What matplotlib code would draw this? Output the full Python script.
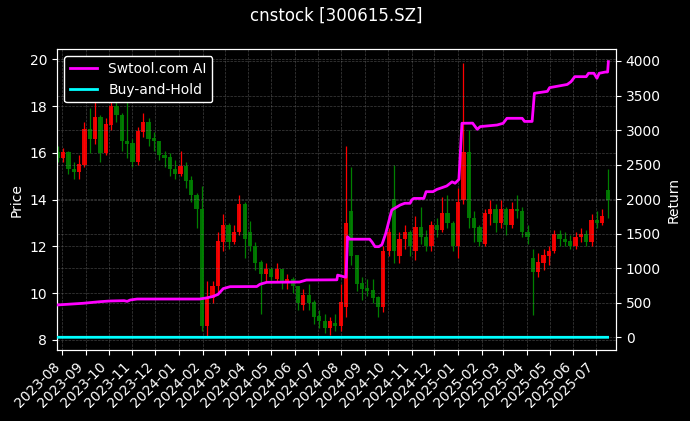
import matplotlib
matplotlib.use("Agg")
import matplotlib.pyplot as plt
import matplotlib.dates as mdates
import numpy as np
import pandas as pd

# Weekly candles (week centre dates)
week_start = "2023-07-26"
opens = [16.0, 15.8, 16.0, 15.3, 15.2, 15.5, 17.0, 16.6, 17.5, 16.0,
         17.2, 18.0, 17.6, 16.5, 16.4, 15.6, 16.9, 17.3, 16.6, 16.5,
         15.9, 15.8, 15.3, 15.1, 15.4, 14.8, 14.2, 13.6, 8.6, 9.8,
         10.3, 12.2, 12.9, 12.2, 12.6, 13.8, 12.6, 12.0, 11.3, 10.8,
         11.0, 10.6, 11.0, 10.5, 10.6, 10.3, 9.5, 9.9, 9.6, 9.0,
         8.8, 8.5, 8.7, 8.6, 9.4, 13.5, 11.6, 10.4, 10.2, 10.1,
         9.8, 9.4, 11.8, 14.0, 11.6, 12.3, 12.6, 11.8, 12.8, 12.4,
         12.0, 12.9, 12.7, 13.4, 13.0, 12.0, 14.0, 16.0, 13.2, 12.8,
         12.1, 13.4, 13.6, 13.0, 13.6, 12.9, 13.6, 13.5, 12.6, 11.5,
         10.9, 11.3, 11.6, 11.8, 12.5, 12.3, 12.2, 12.0, 12.4, 12.5,
         12.2, 13.1, 13.0, 14.4]
closes = [15.8, 16.0, 15.3, 15.2, 15.5, 17.0, 16.6, 17.5, 16.0, 17.2,
          18.0, 17.6, 16.5, 16.4, 15.6, 16.9, 17.3, 16.6, 16.5, 15.9,
          15.8, 15.3, 15.1, 15.4, 14.8, 14.2, 13.6, 8.6, 9.8, 10.3,
          12.2, 12.9, 12.2, 12.6, 13.8, 12.3, 12.0, 11.3, 10.8, 11.0,
          10.7, 11.0, 10.5, 10.6, 10.3, 9.6, 9.9, 9.6, 9.0, 8.8,
          8.5, 8.8, 8.6, 9.6, 13.0, 11.6, 10.4, 10.2, 10.1, 9.8,
          9.4, 11.8, 12.6, 11.8, 12.3, 12.6, 12.0, 12.8, 12.4, 12.0,
          12.9, 12.7, 13.4, 13.0, 12.0, 13.9, 16.0, 13.2, 12.8, 12.2,
          13.4, 13.6, 13.0, 13.6, 12.9, 13.6, 13.5, 12.6, 12.4, 10.9,
          11.3, 11.6, 11.8, 12.5, 12.3, 12.2, 12.0, 12.4, 12.5, 12.2,
          13.1, 13.0, 13.3, 14.0]
highs = [16.3, 16.2, 16.1, 15.6, 15.9, 17.3, 17.9, 18.3, 17.6, 17.5,
         18.4, 18.6, 17.7, 18.3, 16.6, 17.1, 17.7, 17.5, 16.9, 16.5,
         16.1, 16.0, 15.7, 16.1, 15.6, 15.0, 14.3, 14.6, 10.5, 10.5,
         12.6, 13.4, 13.0, 12.9, 14.2, 13.9, 13.1, 12.2, 11.4, 11.3,
         11.1, 11.3, 11.0, 10.8, 10.7, 10.3, 10.2, 10.4, 9.7, 9.3,
         9.1, 9.0, 9.1, 10.4, 16.3, 15.4, 11.6, 10.7, 10.6, 10.6,
         9.9, 12.0, 12.8, 15.5, 12.6, 12.9, 12.7, 13.3, 13.7, 12.7,
         13.1, 13.2, 14.1, 14.2, 13.1, 14.5, 19.85, 17.0, 13.5, 12.9,
         13.6, 14.0, 13.8, 14.0, 13.7, 13.9, 14.2, 13.7, 12.9, 11.9,
         11.7, 11.9, 12.0, 12.7, 12.7, 12.6, 12.5, 12.6, 12.8, 12.7,
         13.4, 13.5, 13.6, 15.3]
lows = [15.6, 15.6, 15.1, 14.9, 14.9, 15.4, 16.0, 16.4, 15.6, 15.9,
        17.0, 17.3, 16.1, 15.8, 15.4, 15.5, 16.7, 16.3, 16.1, 15.7,
        15.4, 15.0, 14.9, 15.0, 14.5, 13.9, 12.8, 8.4, 8.15, 9.6,
        10.0, 11.8, 11.9, 12.1, 12.5, 11.5, 11.8, 11.0, 9.1, 10.5,
        10.4, 10.5, 10.2, 10.2, 10.0, 9.3, 9.3, 9.3, 8.7, 8.5,
        8.3, 8.2, 8.4, 8.4, 9.0, 11.2, 10.1, 9.7, 9.9, 9.6,
        9.0, 9.2, 11.6, 11.3, 11.3, 11.9, 11.6, 11.4, 12.1, 11.8,
        11.8, 12.4, 12.6, 12.8, 11.8, 11.5, 13.8, 12.8, 12.2, 12.0,
        12.0, 12.9, 12.6, 12.8, 12.5, 12.8, 13.2, 12.4, 12.1, 9.05,
        10.7, 11.0, 11.2, 11.7, 12.0, 12.0, 11.9, 11.9, 12.2, 12.0,
        12.0, 12.8, 12.9, 13.2]

# Strategy cumulative return (%), breakpoints
ret_dates = ['2023-07-25', '2023-08-28', '2023-09-19', '2023-10-02', '2023-10-21',
             '2023-10-25', '2023-10-29', '2023-11-07', '2024-01-28', '2024-02-06',
             '2024-02-14', '2024-02-21', '2024-02-28', '2024-03-08', '2024-04-12',
             '2024-04-16', '2024-04-25', '2024-06-07', '2024-06-16', '2024-07-26',
             '2024-07-27', '2024-08-03', '2024-08-07', '2024-08-09', '2024-08-12',
             '2024-09-07', '2024-09-10', '2024-09-14', '2024-09-19', '2024-09-23',
             '2024-09-28', '2024-10-02', '2024-10-06', '2024-10-17', '2024-10-23',
             '2024-10-30', '2024-11-01', '2024-11-04', '2024-11-17', '2024-11-20',
             '2024-11-29', '2024-12-04', '2024-12-17', '2024-12-24', '2024-12-28',
             '2025-01-02', '2025-01-06', '2025-01-20', '2025-01-26', '2025-01-30',
             '2025-02-21', '2025-03-01', '2025-03-06', '2025-03-26', '2025-03-29',
             '2025-04-08', '2025-04-11', '2025-04-28', '2025-05-01', '2025-05-24',
             '2025-05-29', '2025-06-03', '2025-06-18', '2025-06-21', '2025-06-28',
             '2025-07-02', '2025-07-05', '2025-07-13', '2025-07-16', '2025-07-17']
ret_vals = [468, 492, 515, 525, 530, 520, 540, 554, 554, 570,
            590, 620, 705, 733, 735, 767, 796, 800, 829, 832,
            900, 880, 870, 1456, 1420, 1420, 1380, 1312, 1312, 1340,
            1500, 1674, 1843, 1915, 1940, 1940, 1988, 2010, 2010, 2108,
            2108, 2140, 2190, 2250, 2230, 2285, 3098, 3100, 3011, 3050,
            3073, 3098, 3170, 3170, 3125, 3125, 3532, 3560, 3614, 3660,
            3700, 3773, 3773, 3822, 3822, 3750, 3822, 3840, 3840, 3990]

title = "cnstock [300615.SZ]"

# ---------------------------------------------------------------
dates = pd.date_range(week_start, periods=len(closes), freq="7D")
o = np.array(opens); c = np.array(closes); h = np.array(highs); l = np.array(lows)
up = c >= o
cols = np.where(up, "#ff0000", "#008000")
bh = c / c[0] - 1.0  # buy-and-hold

fig = plt.figure(figsize=(6.9, 4.21), dpi=100, facecolor="black")
ax = fig.add_axes([57/690, 71/421, 559/690, 300.7/421])
ax.set_facecolor("black")

ax.vlines(dates, l, h, colors=cols, linewidth=0.9, zorder=2)
ax.bar(dates, np.abs(c - o) + 0.02, bottom=np.minimum(o, c), width=5.5,
       color=cols, edgecolor="none", alpha=0.9, zorder=2)

ax.set_ylim(7.57, 20.43)
ax.set_xlim(pd.Timestamp("2023-07-25"), pd.Timestamp("2025-07-27"))
ax.set_ylabel("Price", color="white")

ax2 = ax.twinx()
l1, = ax2.plot(pd.to_datetime(ret_dates), ret_vals, color="#ff00ff", linewidth=2,
               label="Swtool.com AI", zorder=4)
l2, = ax2.plot(dates, bh, color="#00ffff", linewidth=2, label="Buy-and-Hold", zorder=4)
ax2.set_ylim(-184, 4169)
ax2.set_ylabel("Return", color="white")

for a in (ax, ax2):
    a.tick_params(colors="white", labelsize=10)
    for s in a.spines.values():
        s.set_color("white")
    a.grid(True, color="gray", linestyle="--", linewidth=0.5, alpha=0.5)
ax.set_axisbelow(True)

ax.xaxis.set_major_locator(mdates.MonthLocator())
ax.xaxis.set_major_formatter(mdates.DateFormatter("%Y-%m"))
plt.setp(ax.get_xticklabels(), rotation=45, ha="right", rotation_mode="default")

leg = ax2.legend(handles=[l1, l2], loc="upper left", facecolor="black",
                 edgecolor="white", fontsize=10, framealpha=1.0)
for t in leg.get_texts():
    t.set_color("white")

fig.text(336.5/690, 1 - 16/421, title, color="white", fontsize=12,
         ha="center", va="center")

fig.savefig("out.png", dpi=100, facecolor="black")
